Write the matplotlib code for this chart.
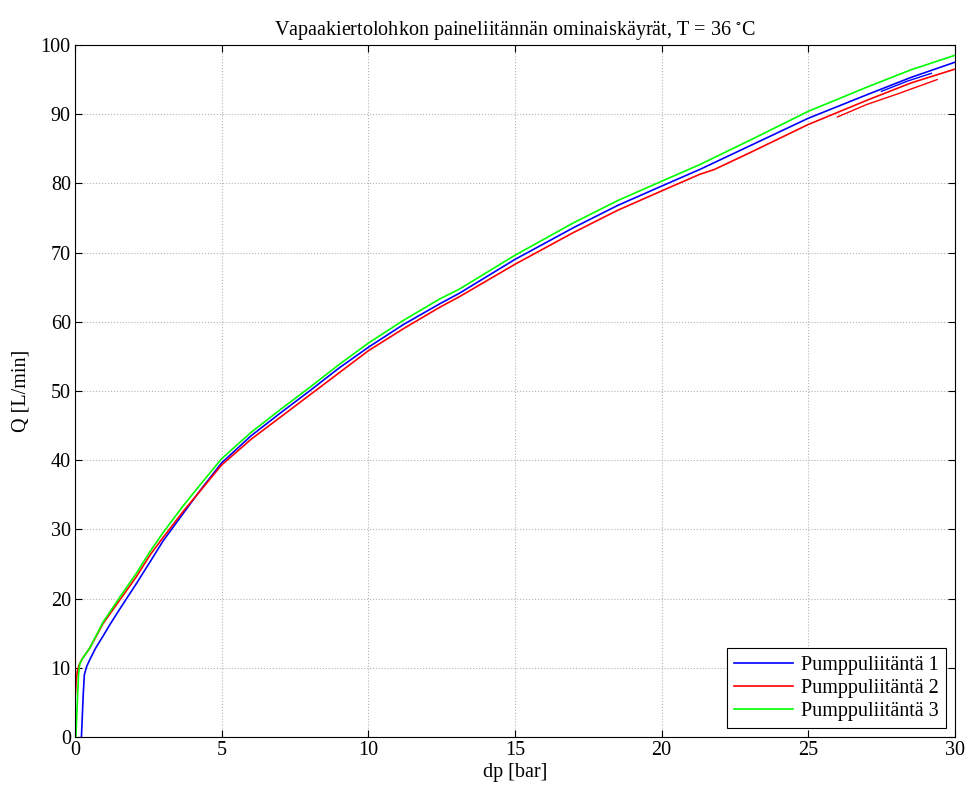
import numpy as np
import matplotlib.pyplot as plt

plt.rcParams['font.family'] = ['Liberation Serif', 'DejaVu Serif']
plt.rcParams['mathtext.fontset'] = 'stix'

# Pumppuliitäntä 1 (blue)
dp1 = [0.22, 0.25, 0.28, 0.32, 0.4, 0.51, 0.7, 0.96, 1.2, 1.53, 2.1, 2.56, 3.0, 3.69, 4.3,
       5.0, 6.0, 7.0, 8.0, 9.0, 10, 11.2, 12.44, 13.1, 15, 17, 18.5, 20, 21.3, 23, 25, 27, 28.5, 30]
Q1 = [0, 3, 6, 9, 10.2, 11.2, 12.8, 14.6, 16.3, 18.5, 22.2, 25.3, 28.3, 32.3, 35.8,
      39.6, 43.5, 46.8, 50.0, 53.3, 56.3, 59.6, 62.6, 64.1, 69.0, 73.6, 76.8, 79.6, 82.0, 85.4, 89.4, 92.8, 95.3, 97.5]
# short second pass near the end
dp1b = [27.5, 28.4, 29.2]
Q1b = [93.3, 94.8, 95.9]

# Pumppuliitäntä 2 (red)
dp2 = [0.0, 0.02, 0.04, 0.08, 0.15, 0.25, 0.5, 0.96, 1.53, 2.1, 2.56, 3.0, 3.69, 4.3, 5, 6, 7, 8, 9, 10,
       11.2, 12.44, 13.1, 15, 17, 18.5, 20, 21.3, 21.8, 23, 25, 27, 28.5, 30]
Q2 = [5.5, 6.5, 8.0, 9.5, 10.5, 11.3, 12.8, 16.4, 19.8, 23.2, 26.3, 28.8, 32.6, 35.7, 39.3, 43.0, 46.2, 49.4, 52.6, 55.8,
      59.0, 62.1, 63.6, 68.3, 72.9, 76.1, 78.9, 81.3, 82.0, 84.4, 88.5, 92.0, 94.5, 96.5]
dp2b = [26.0, 27.0, 28.1, 29.4]
Q2b = [89.6, 91.4, 93.0, 95.0]

# Pumppuliitäntä 3 (green)
dp3 = [0.03, 0.06, 0.09, 0.12, 0.16, 0.25, 0.51, 0.96, 1.53, 2.1, 2.56, 3.0, 3.69, 4.3, 5, 6, 7, 8, 9, 10,
       11.2, 12.44, 13.1, 15, 17, 18.5, 20, 21.3, 23, 25, 27, 28.5, 30]
Q3 = [0, 3, 6, 9, 10.5, 11.3, 12.9, 16.6, 20.2, 23.7, 26.8, 29.5, 33.4, 36.6, 40.2, 44.0, 47.3, 50.5, 53.8, 56.9,
      60.2, 63.3, 64.7, 69.6, 74.3, 77.5, 80.3, 82.7, 86.2, 90.4, 93.9, 96.4, 98.5]

labels = ['Pumppuliitäntä 1', 'Pumppuliitäntä 2', 'Pumppuliitäntä 3']

fig = plt.figure(figsize=(9.7, 7.89), dpi=100)
ax = fig.add_axes([0.0773, 0.066, 0.907, 0.877])

ax.plot(dp1, Q1, color=(0, 0, 1), lw=1.2, label=labels[0])
ax.plot(dp1b, Q1b, color=(0, 0, 1), lw=1.0)
ax.plot(dp2, Q2, color=(1, 0, 0), lw=1.2, label=labels[1])
ax.plot(dp2b, Q2b, color=(1, 0, 0), lw=1.0)
ax.plot(dp3, Q3, color=(0, 1, 0), lw=1.2, label=labels[2])

ax.set_xlim(0, 30)
ax.set_ylim(0, 100)
ax.set_xticks(np.arange(0, 31, 5))
ax.set_yticks(np.arange(0, 101, 10))
ax.grid(True, linestyle=':', color='#b4b4b4', lw=0.8)
ax.tick_params(direction='in', top=True, right=True, length=5, labelsize=14.5, pad=3)
for s in ax.spines.values():
    s.set_linewidth(0.8)

ax.set_xlabel('dp [bar]', fontsize=14.5, labelpad=2)
ax.set_ylabel('Q [L/min]', fontsize=14.5, labelpad=7)
ax.set_title(r'Vapaakiertolohkon paineliitännän ominaiskäyrät, T = 36 $^{\circ}$C', fontsize=14.5, pad=7)

leg = ax.legend(loc='lower right', fontsize=14.5, fancybox=False, framealpha=1,
                edgecolor='black', handlelength=2.9, handletextpad=0.4,
                borderaxespad=0.45, labelspacing=0.2, borderpad=0.35)
leg.get_frame().set_linewidth(0.8)

plt.savefig('out.png', dpi=100)
